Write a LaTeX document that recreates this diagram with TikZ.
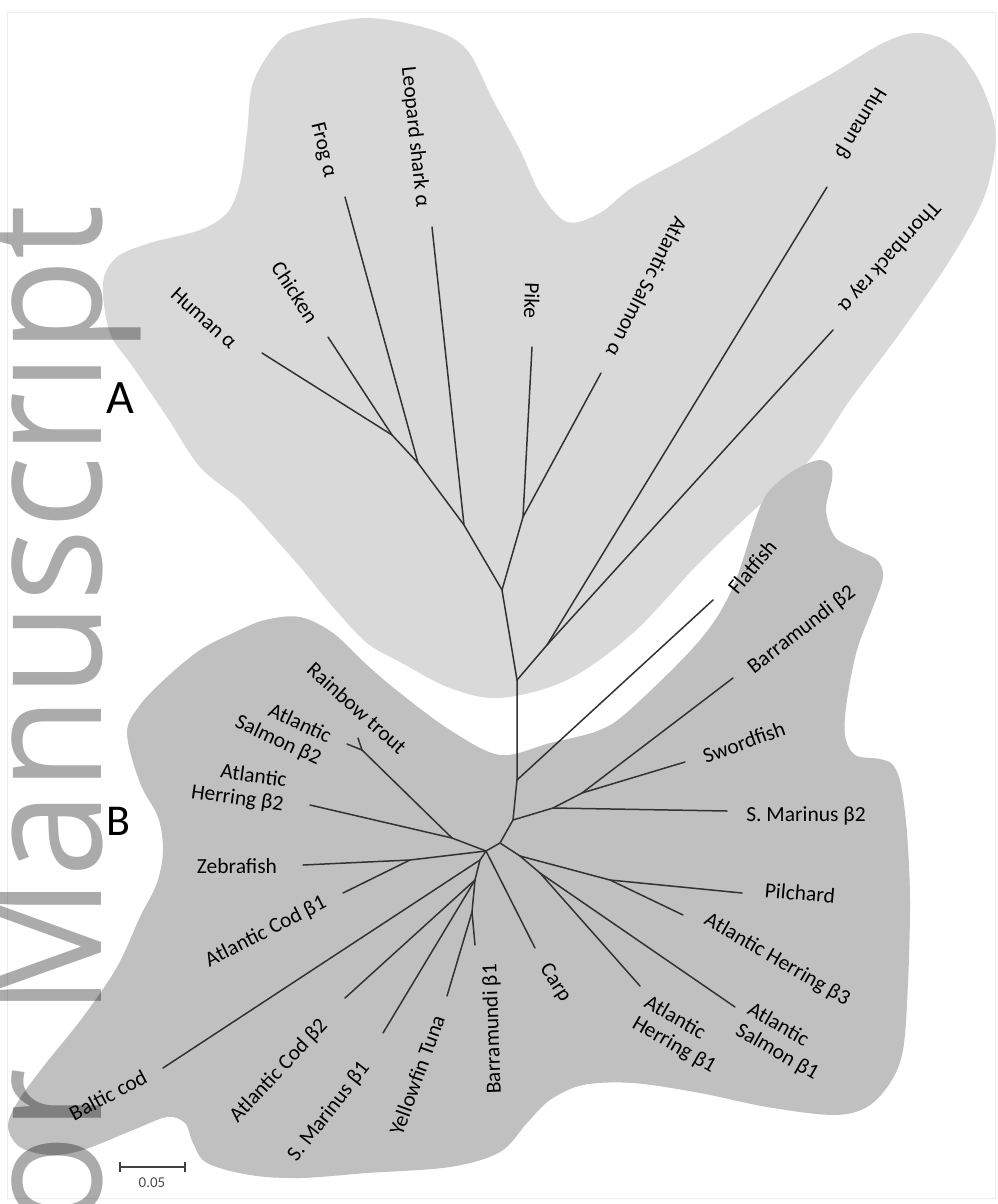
\documentclass[tikz,border=0pt]{standalone}
\usepackage{fontspec}
\usepackage{graphicx}
\setmainfont{Carlito}
\newfontfamily\wmfont{Open Sans}
\definecolor{lightblob}{RGB}{217,217,217}
\definecolor{darkblob}{RGB}{192,192,192}
\definecolor{branchgray}{RGB}{50,50,50}

\begin{document}
\begin{tikzpicture}[x=1pt, y=-1pt,
        branch/.style={draw=branchgray, line width=1.5pt, line cap=round, line join=round},
        lbl/.style={font=\fontsize{21.5}{24}\selectfont, inner sep=0pt},
        tag/.style={font=\fontsize{48}{50}\selectfont, inner sep=0pt},
        wm/.style={font=\wmfont\fontsize{154}{160}\selectfont, text=black, text opacity=0.33, inner sep=0pt},
        scalebar/.style={draw=black!75, line width=1.6pt}]
    \useasboundingbox (0,0) rectangle (997,1204);
    \fill[white] (0,0) rectangle (997,1204);
    \draw[black!7, line width=1pt] (7,13) rectangle (995,1198);

    % clade areas
    \fill[lightblob] plot[smooth cycle, tension=0.55] coordinates {
        (277,43) (300,30) (367,18) (433,30) (467,50) (493,100) (520,150) (540,193) (567,222)
        (600,213) (633,187) (700,150) (767,110) (833,73) (883,43) (917,33) (950,43) (977,77)
        (993,117) (995,150) (983,200) (950,260) (900,333) (850,400) (817,450) (783,490)
        (763,502) (700,562) (633,633) (567,680) (500,698) (450,688) (400,662) (367,643)
        (333,607) (300,567) (270,533) (240,500) (200,467) (167,417) (133,367) (110,333)
        (103,283) (117,257) (150,243) (200,230) (227,213) (240,183) (247,133) (253,83)};
    \fill[darkblob] plot[smooth cycle, tension=0.55] coordinates {
        (300,617) (333,633) (367,665) (400,693) (450,730) (500,755) (550,743) (600,730)
        (633,707) (700,640) (733,587) (760,507) (777,483) (800,467) (820,460) (831,466)
        (832,480) (826,510) (835,537) (857,550) (877,560) (883,577) (873,607) (857,650)
        (847,700) (845,735) (855,755) (880,759) (893,765) (901,785) (907,833) (910,900)
        (908,983) (903,1050) (890,1083) (867,1107) (833,1115) (767,1107) (700,1093)
        (633,1083) (583,1085) (550,1100) (527,1123) (500,1152) (450,1167) (367,1173)
        (300,1178) (250,1175) (207,1163) (193,1143) (185,1123) (167,1117) (133,1130)
        (83,1150) (50,1155) (20,1147) (8,1127) (17,1103) (43,1067) (83,1017) (117,967)
        (140,917) (157,883) (163,850) (158,817) (140,783) (127,733) (140,705) (167,677)
        (200,650) (233,633) (265,620)};

    % watermark
    \begin{scope}
        \clip (0,0) rectangle (997,1204);
        \node[wm, rotate=90, anchor=base east] (wmark) at (101,205) {\scalebox{1}[1.07]{o\kern3pt r\hspace{12pt} Manuscript}};
    \end{scope}

    % tips and junctions
    \coordinate (tHa) at (262,353);  \coordinate (tCh) at (328,337);  \coordinate (a1) at (392,435);
    \coordinate (tFr) at (345,197);  \coordinate (a2) at (418,463);
    \coordinate (tLs) at (432,227);  \coordinate (a3) at (464,525);
    \coordinate (tPk) at (532,347);  \coordinate (tSa) at (601,373);  \coordinate (a4) at (523,517);
    \coordinate (a5) at (502,590);
    \coordinate (tHb) at (827,187);  \coordinate (tTr) at (833,330);  \coordinate (b1) at (547,645);
    \coordinate (a6) at (517,680);
    \coordinate (g1) at (517,780);   \coordinate (tFl) at (713,600);
    \coordinate (c0) at (513,820);
    \coordinate (tBb2) at (733,678); \coordinate (tSw) at (685,762);  \coordinate (f1) at (582,793);
    \coordinate (tSm2) at (727,811); \coordinate (f2) at (553,808);
    \coordinate (c1) at (500,843);   \coordinate (e1) at (520,856);
    \coordinate (p1) at (610,880);   \coordinate (tPi) at (742,893);  \coordinate (tHb3) at (683,915);
    \coordinate (e2) at (540,873);   \coordinate (tSb1) at (735,1007); \coordinate (tHb1) at (640,986);
    \coordinate (c2) at (486,851);   \coordinate (tCa) at (535,948);
    \coordinate (h1) at (452,838);   \coordinate (s1) at (362,750);
    \coordinate (tRt) at (358,738);  \coordinate (tSb2) at (347,744); \coordinate (tHb2) at (310,805);
    \coordinate (z1) at (410,860);   \coordinate (tZe) at (303,865);  \coordinate (tCb1) at (343,893);
    \coordinate (d1) at (480,860);   \coordinate (tBc) at (163,1068);
    \coordinate (d2) at (475,880);   \coordinate (tCb2) at (345,998); \coordinate (tSm1) at (383,1033);
    \coordinate (d3) at (472,912);   \coordinate (tYt) at (447,996);  \coordinate (tBb1) at (475,945);

    % branches
    \draw[branch] (tHa) -- (a1) -- (a2) -- (a3) -- (a5) -- (a6) -- (g1) -- (c0) -- (c1) -- (c2);
    \draw[branch] (tCh) -- (a1);
    \draw[branch] (tFr) -- (a2);
    \draw[branch] (tLs) -- (a3);
    \draw[branch] (tPk) -- (a4) -- (a5);
    \draw[branch] (tSa) -- (a4);
    \draw[branch] (tHb) -- (b1) -- (a6);
    \draw[branch] (tTr) -- (b1);
    \draw[branch] (tFl) -- (g1);
    \draw[branch] (tBb2) -- (f1) -- (f2) -- (c0);
    \draw[branch] (tSw) -- (f1);
    \draw[branch] (tSm2) -- (f2);
    \draw[branch] (c1) -- (e1) -- (p1) -- (tPi);
    \draw[branch] (p1) -- (tHb3);
    \draw[branch] (e1) -- (e2) -- (tSb1);
    \draw[branch] (e2) -- (tHb1);
    \draw[branch] (c2) -- (tCa);
    \draw[branch] (c2) -- (h1) -- (s1) -- (tRt);
    \draw[branch] (s1) -- (tSb2);
    \draw[branch] (h1) -- (tHb2);
    \draw[branch] (c2) -- (z1) -- (tZe);
    \draw[branch] (z1) -- (tCb1);
    \draw[branch] (c2) -- (d1) -- (tBc);
    \draw[branch] (d1) -- (d2) -- (tCb2);
    \draw[branch] (d2) -- (tSm1);
    \draw[branch] (d2) -- (d3) -- (tYt);
    \draw[branch] (d3) -- (tBb1);

    % leaf labels
    \node[lbl, rotate=-42] (lHa) at (204,318) {Human α};
    \node[lbl, rotate=-57] (lCh) at (295,292) {Chicken};
    \node[lbl, rotate=-76] (lFr) at (323,150) {Frog α};
    \node[lbl, rotate=-84] (lLs) at (415,137) {Leopard shark α};
    \node[lbl, rotate=-92] (lPk) at (532,301) {Pike};
    \node[lbl, rotate=-117] (lSa) at (647,287) {Atlantic Salmon α};
    \node[lbl, rotate=-121] (lHb) at (860,123) {Human β};
    \node[lbl, rotate=-132] (lTr) at (889,257) {Thornback ray α};
    \node[lbl, rotate=50] (lFl) at (752,567) {Flatfish};
    \node[lbl, rotate=38] (lBb2) at (802,630) {Barramundi β2};
    \node[lbl, rotate=20] (lSw) at (744,742) {Swordfish};
    \node[lbl] (lSm2) at (806,816) {S. Marinus β2};
    \node[lbl, rotate=-5] (lPi) at (800,893) {Pilchard};
    \node[lbl, rotate=-30] (lHb3) at (777,960) {Atlantic Herring β3};
    \node[lbl, rotate=-30, align=left] (lSb1) at (783,1042) {Atlantic\\Salmon β1};
    \node[lbl, rotate=-30, align=left] (lHb1) at (680,1035) {Atlantic\\Herring β1};
    \node[lbl, rotate=-57] (lCa) at (555,983) {Carp};
    \node[lbl, rotate=92] (lBb1) at (493,1029) {Barramundi β1};
    \node[lbl, rotate=70] (lYt) at (417,1075) {Yellowfin Tuna};
    \node[lbl, rotate=52] (lSm1) at (329,1112) {S. Marinus β1};
    \node[lbl, rotate=47] (lCb2) at (279,1071) {Atlantic Cod β2};
    \node[lbl, rotate=28] (lBc) at (108,1095) {Baltic cod};
    \node[lbl, rotate=27] (lCb1) at (266,932) {Atlantic Cod β1};
    \node[lbl] (lZe) at (237,866) {Zebrafish};
    \node[lbl, rotate=-8, align=right] (lHb2) at (239,787) {Atlantic\\Herring β2};
    \node[lbl, rotate=-25, align=right] (lSb2) at (283,730) {Atlantic\\Salmon β2};
    \node[lbl, rotate=-42] (lRt) at (357,708) {Rainbow trout};

    % clade tags
    \node[tag] (tagA) at (120,398) {A};
    \node[tag, font=\fontsize{44}{46}\selectfont] (tagB) at (118,821) {B};

    % scale bar
    \coordinate (sbL) at (120,1167);
    \coordinate (sbR) at (185,1167);
    \draw[scalebar] (sbL) -- (sbR);
    \draw[scalebar] ([yshift=5pt]sbL) -- ([yshift=-5pt]sbL);
    \draw[scalebar] ([yshift=5pt]sbR) -- ([yshift=-5pt]sbR);
    \node[font=\fontsize{15}{16}\selectfont, text=black!70, inner sep=0pt] (sbText) at (152,1183) {0.05};
\end{tikzpicture}
\end{document}
